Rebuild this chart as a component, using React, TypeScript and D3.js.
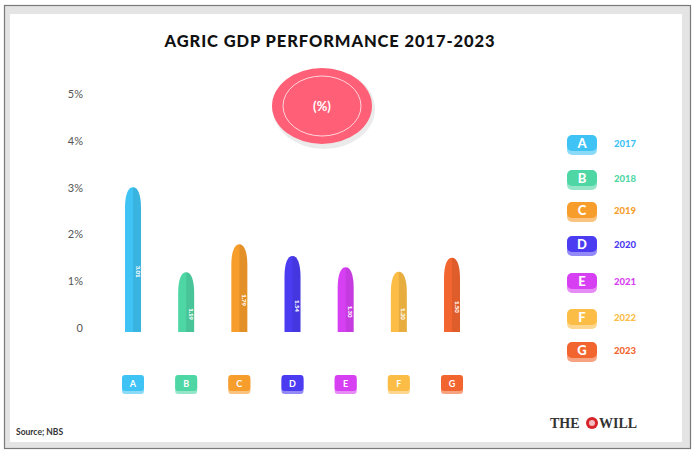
import * as d3 from 'd3';

// ---------------------------------------------------------------------------
// Data
// ---------------------------------------------------------------------------
const LETTERS = ['A', 'B', 'C', 'D', 'E', 'F', 'G'];
const YEARS = ['2017', '2018', '2019', '2020', '2021', '2022', '2023'];
const VALUES = [3.01, 1.19, 1.79, 1.54, 1.3, 1.2, 1.5];
const COLORS = ['#3ec3f4', '#4fd6a5', '#f79d2c', '#4b3cf2', '#d740f2', '#fbbd45', '#f2652f'];
const Y_TICKS = [0, 1, 2, 3, 4, 5];
const LEGEND_Y = [144, 179, 211, 245, 282, 318, 351];

const W = 696;
const H = 456;
const FONT = 'Lato, "Open Sans", sans-serif';
const SERIF = '"Liberation Serif", "DejaVu Serif", serif';

// bullet shaped bar: straight sides, tapered rounded tip
function bulletPath(cx: number, w: number, top: number, bottom: number) {
  const x0 = cx - w / 2;
  const x1 = cx + w / 2;
  const tip = w * 1.3;
  return `M${x0},${bottom} L${x0},${top + tip} C${x0},${top + tip * 0.35} ${cx - w * 0.3},${top} ${cx},${top} C${cx + w * 0.3},${top} ${x1},${top + tip * 0.35} ${x1},${top + tip} L${x1},${bottom} Z`;
}

function halfPath(cx: number, w: number, top: number, bottom: number) {
  const x1 = cx + w / 2;
  const tip = w * 1.3;
  return `M${cx},${top} C${cx + w * 0.3},${top} ${x1},${top + tip * 0.35} ${x1},${top + tip} L${x1},${bottom} L${cx},${bottom} Z`;
}

export default function App() {
  const x = d3.scalePoint<string>().domain(LETTERS).range([133, 452]);
  const y = d3.scaleLinear().domain([0, 5]).range([328, 94]);
  const barW = 16;
  const base = y(0) + 4;

  return (
    <svg
      width={W}
      height={H}
      style={{ position: 'absolute', left: 0, top: 0, background: '#fff' }}
    >
      {/* frame */}
      <rect x={4.5} y={5.5} width={686} height={443} fill="#e4e4e4" stroke="#7a7a7a" strokeWidth={1.2} />
      <rect x={10} y={14} width={672} height={428} fill="#fff" />

      {/* title */}
      <text
        x={330}
        y={47}
        textAnchor="middle"
        fontFamily={FONT}
        fontWeight={900}
        fontSize={16.5}
        letterSpacing={0.9}
        fill="#111"
      >
        AGRIC GDP PERFORMANCE 2017-2023
      </text>

      {/* (%) badge */}
      <ellipse cx={324} cy={109} rx={51} ry={40} fill="#000" opacity={0.08} />
      <ellipse cx={322} cy={106} rx={50} ry={38} fill="#ff6077" />
      <ellipse cx={322} cy={106} rx={39} ry={30} fill="none" stroke="#ffd6dc" strokeWidth={1} />
      <text
        x={322}
        y={111}
        textAnchor="middle"
        fontFamily={FONT}
        fontWeight={700}
        fontSize={13}
        fill="#fff"
      >
        (%)
      </text>

      {/* y axis labels */}
      {Y_TICKS.map((t) => (
        <text
          key={t}
          x={83}
          y={y(t) + 4}
          textAnchor="end"
          fontFamily={FONT}
          fontSize={11}
          fill="#555"
        >
          {t === 0 ? '0' : `${t}%`}
        </text>
      ))}

      {/* bars */}
      {VALUES.map((v, i) => {
        const cx = x(LETTERS[i]) ?? 0;
        const top = y(v);
        const mid = (top + barW + base) / 2 + 4;
        return (
          <g key={LETTERS[i]}>
            <path d={bulletPath(cx, barW, top, base)} fill={COLORS[i]} />
            <path d={halfPath(cx, barW, top, base)} fill="#000" opacity={0.08} />
            <text
              transform={`translate(${cx + 2.5},${mid}) rotate(90)`}
              textAnchor="middle"
              fontFamily={FONT}
              fontWeight={900}
              fontSize={6}
              fill="#fff"
            >
              {v.toFixed(2)}
            </text>
          </g>
        );
      })}

      {/* bottom letter badges */}
      {LETTERS.map((l, i) => {
        const cx = x(l) ?? 0;
        return (
          <g key={l}>
            <rect x={cx - 11} y={377} width={22} height={17} rx={3} fill={COLORS[i]} opacity={0.6} />
            <rect x={cx - 11} y={375} width={22} height={16} rx={3} fill={COLORS[i]} />
            <text
              x={cx}
              y={387}
              textAnchor="middle"
              fontFamily={FONT}
              fontWeight={700}
              fontSize={9}
              fill="#fff"
            >
              {l}
            </text>
          </g>
        );
      })}

      {/* legend */}
      {YEARS.map((yr, i) => {
        const ly = LEGEND_Y[i];
        return (
          <g key={yr}>
            <rect x={567} y={ly - 6} width={30} height={17} rx={5} fill={COLORS[i]} opacity={0.6} />
            <rect x={567} y={ly - 9} width={30} height={16} rx={5} fill={COLORS[i]} />
            <text
              x={582}
              y={ly + 4}
              textAnchor="middle"
              fontFamily={FONT}
              fontWeight={900}
              fontSize={13}
              fill="#fff"
            >
              {LETTERS[i]}
            </text>
            <text x={614} y={ly + 3} fontFamily={FONT} fontWeight={900} fontSize={9.5} fill={COLORS[i]}>
              {yr}
            </text>
          </g>
        );
      })}

      {/* source */}
      <text x={16} y={435} fontFamily={FONT} fontWeight={700} fontSize={8.5} fill="#333">
        Source; NBS
      </text>

      {/* logo */}
      <text x={550} y={428} fontFamily={SERIF} fontWeight={700} fontSize={14} fill="#333">
        THE
      </text>
      <circle cx={592} cy={423} r={6} fill="#d8232a" />
      <circle cx={592} cy={423} r={3} fill="#fff" opacity={0.7} />
      <text x={599} y={428} fontFamily={SERIF} fontWeight={700} fontSize={14} fill="#333">
        WILL
      </text>
    </svg>
  );
}
